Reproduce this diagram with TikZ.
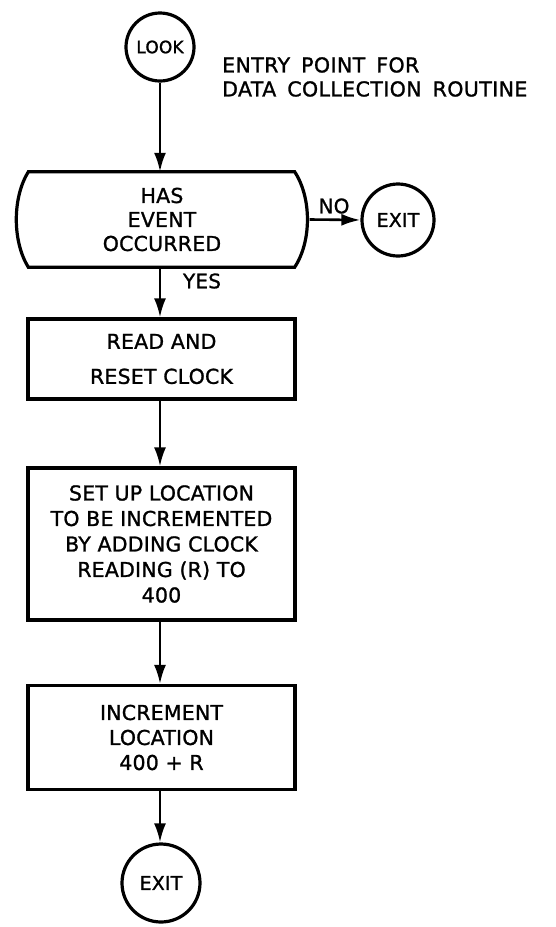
\documentclass[tikz,border=0pt]{standalone}
\usepackage{fontspec}
\setmainfont{DejaVu Sans}[LetterSpace=1,FakeBold=1.2]
\newfontfamily\entryfont{DejaVu Sans}[LetterSpace=2,FakeBold=1.2,WordSpace=1.6]
\usetikzlibrary{arrows.meta}
\begin{document}
\begin{tikzpicture}[x=1pt,y=-1pt,
  txt/.style={align=center, inner sep=0pt},
  term/.style={circle, draw, line width=3.2pt, inner sep=0pt, font=\fontsize{19}{22}\selectfont},
  proc/.style={rectangle, draw, line width=3.2pt, minimum width=267pt, inner sep=0pt, align=center},
  flow/.style={line width=2.6pt, -{Latex[length=19pt,width=12pt]}},
  lbl/.style={inner sep=0pt, font=\fontsize{20}{22}\selectfont}]
\useasboundingbox (0,0) rectangle (555,927);

% terminals
\node[term, minimum size=68pt, font=\fontsize{17}{20}\selectfont] (look) at (160,47) {LOOK};
\node[term, minimum size=72pt] (exitr) at (398,220) {EXIT};
\node[term, minimum size=78pt] (exitb) at (161,883) {EXIT};

% decision
\node[txt, minimum width=295pt, minimum height=95pt,
      font=\fontsize{20.5}{24}\selectfont] (dec) at (162,219.5) {HAS\\EVENT\\OCCURRED};
\draw[line width=3.2pt]
  ([xshift=14pt]dec.north west) -- ([xshift=-15pt]dec.north east)
  .. controls ([xshift=2pt,yshift=-26pt]dec.north east) and ([xshift=2pt,yshift=26pt]dec.south east) ..
  ([xshift=-15pt]dec.south east) -- ([xshift=14pt]dec.south west)
  .. controls ([xshift=-2pt,yshift=26pt]dec.south west) and ([xshift=-2pt,yshift=-26pt]dec.north west) ..
  cycle;

% process boxes
\node[proc, minimum height=80pt, font=\fontsize{20.5}{35}\selectfont] (read) at (161.5,359) {READ AND\\RESET CLOCK};
\node[proc, minimum height=152pt, font=\fontsize{20.5}{25.5}\selectfont] (setup) at (161.5,544) {SET UP LOCATION\\TO BE INCREMENTED\\BY ADDING CLOCK\\READING (R) TO\\400};
\node[proc, minimum height=104pt, font=\fontsize{20.5}{25}\selectfont] (inc) at (161.5,737.5) {INCREMENT\\LOCATION\\400 + R};

% annotation
\node[lbl, anchor=north west, align=left, font=\entryfont\fontsize{20.5}{24}\selectfont] (entry) at (222,57) {ENTRY POINT FOR\\DATA COLLECTION ROUTINE};

% connectors
\draw[flow] (look.south) -- (look.south |- dec.north);
\draw[flow] (dec.east) -- (exitr.west);
\draw[flow] (look.south |- dec.south) -- (look.south |- read.north);
\draw[flow] (look.south |- read.south) -- (look.south |- setup.north);
\draw[flow] (look.south |- setup.south) -- (look.south |- inc.north);
\draw[flow] (look.south |- inc.south) -- (look.south |- exitb.north);

% labels
\node[lbl] (no) at (334,206) {NO};
\node[lbl] (yes) at (202,281) {YES};
\end{tikzpicture}
\end{document}
